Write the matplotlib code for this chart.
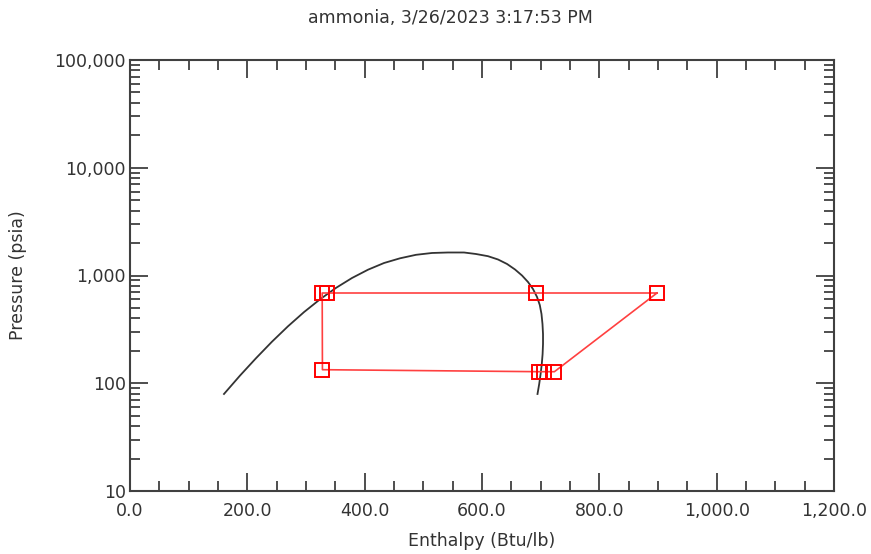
import numpy as np
import matplotlib
matplotlib.use("Agg")
import matplotlib.pyplot as plt
from matplotlib.ticker import FuncFormatter, MultipleLocator, LogLocator, NullFormatter

# Saturation dome (enthalpy Btu/lb, pressure psia), liquid side then vapour side
dome_h = [160.2, 187.5, 214.8, 242.0, 269.3, 296.6, 323.9, 351.1, 378.4, 405.7,
          433.0, 460.2, 487.5, 514.8, 542.0, 569.3, 589.8, 610.2, 627.3, 642.7,
          656.3, 668.2, 678.4, 686.9, 693.8, 698.5, 701.4, 703.1, 704.0, 704.0,
          703.3, 701.9, 699.9, 697.5, 694.6]
dome_p = [79.5, 117.8, 170.8, 243.0, 337.8, 457.5, 601.3, 767.2, 948, 1132,
          1306, 1444, 1556, 1618, 1635, 1635, 1583, 1511, 1408, 1279,
          1137, 1000, 870.4, 749.4, 631.7, 532.3, 439.3, 354.8, 286.5, 231.3,
          186.8, 150.9, 121.8, 98.4, 79.5]

# Refrigeration cycle state points, in order around the loop
cycle_h = [898.3, 692.0, 336.1, 327.6, 328.0, 697.5, 705.7, 723.4, 898.3]
cycle_p = [688, 688, 688, 688, 133.6, 128, 128, 128, 688]

title = "ammonia, 3/26/2023 3:17:53 PM"
text_color = "#333333"
axis_color = "#404040"
fs = 12.5

fig = plt.figure(figsize=(8.71, 5.54), dpi=100)
ax = fig.add_axes([130 / 871, 63 / 554, 704 / 871, 431 / 554])

ax.plot(dome_h, dome_p, color="#333333", lw=1.3)
ax.plot(cycle_h, cycle_p, color="#ff4040", lw=1.2, zorder=3)
ax.plot(cycle_h[:-1], cycle_p[:-1], ls="none", marker="s", ms=10.5,
        mfc="none", mec="red", mew=1.4, zorder=4)

ax.set_xlim(0, 1200)
ax.set_yscale("log")
ax.set_ylim(10, 100000)

ax.xaxis.set_major_locator(MultipleLocator(200))
ax.xaxis.set_minor_locator(MultipleLocator(50))
ax.xaxis.set_major_formatter(FuncFormatter(lambda v, p: f"{v:,.1f}"))
ax.yaxis.set_major_locator(LogLocator(base=10, numticks=10))
ax.yaxis.set_minor_locator(LogLocator(base=10, subs=np.arange(2, 10), numticks=10))
ax.yaxis.set_major_formatter(FuncFormatter(lambda v, p: f"{v:,.0f}"))
ax.yaxis.set_minor_formatter(NullFormatter())

ax.tick_params(which="both", direction="in", top=True, right=True,
               color=axis_color, width=1.3, labelsize=fs, labelcolor=text_color)
ax.tick_params(which="major", length=13)
ax.tick_params(which="minor", length=7)
ax.tick_params(axis="x", pad=8)
ax.tick_params(axis="y", pad=3)
for s in ax.spines.values():
    s.set_color(axis_color)
    s.set_linewidth(1.5)

ax.set_xlabel("Enthalpy (Btu/lb)", fontsize=fs, color=text_color)
ax.xaxis.set_label_coords(0.5, -(532 - 491) / 431)
ax.set_ylabel("Pressure (psia)", fontsize=fs, color=text_color)
ax.yaxis.set_label_coords(-(130 - 27) / 704, 0.5)
fig.text(450 / 871, 1 - 18 / 554, title, ha="center", va="center",
         fontsize=fs, color=text_color)

fig.savefig("out.png", dpi=100)
